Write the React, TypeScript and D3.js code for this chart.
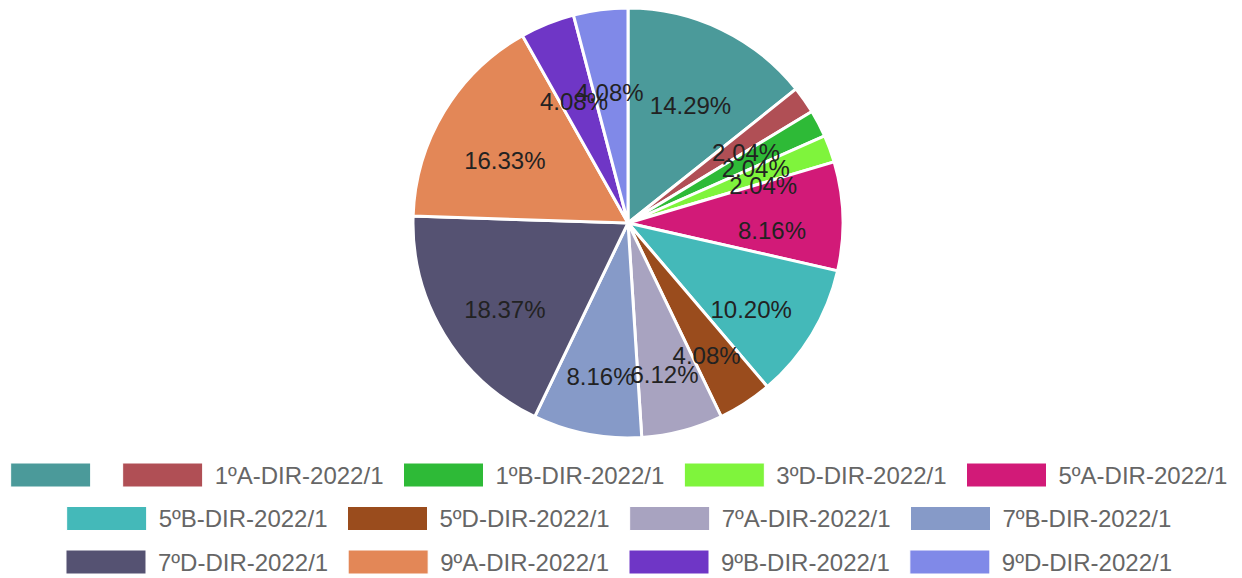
import React, {useMemo} from 'react'
import * as d3 from 'd3'

const categories = [
  '',
  '1ºA-DIR-2022/1',
  '1ºB-DIR-2022/1',
  '3ºD-DIR-2022/1',
  '5ºA-DIR-2022/1',
  '5ºB-DIR-2022/1',
  '5ºD-DIR-2022/1',
  '7ºA-DIR-2022/1',
  '7ºB-DIR-2022/1',
  '7ºD-DIR-2022/1',
  '9ºA-DIR-2022/1',
  '9ºB-DIR-2022/1',
  '9ºD-DIR-2022/1',
]

const counts = [7, 1, 1, 1, 4, 5, 2, 3, 4, 9, 8, 2, 2]

const colors = [
  '#4b9a9a', '#b04f55', '#2eba37', '#7ff43c', '#d21a78', '#44b9b9', '#9a4c1d',
  '#a8a3c0', '#869ac8', '#555272', '#e38757', '#6f36c6', '#8089e8',
]

const W = 1242
const H = 578
const cx = 628
const cy = 223
const radius = 215
const font = '"Liberation Sans", Arial, sans-serif'

const measure = (text: string, size: number) => {
  if (!text) return 0
  const ctx = document.createElement('canvas').getContext('2d')
  if (!ctx) return text.length * size * 0.5
  ctx.font = `${size}px ${font}`
  return ctx.measureText(text).width
}

const App = () => {
  const total = d3.sum(counts)

  const arcs = useMemo(() => d3.pie<number>().sort(null).value(d => d)(counts), [])
  const arcGen = d3.arc<d3.PieArcDatum<number>>().innerRadius(0).outerRadius(radius)

  // legend layout, wrapped like chart.js and centred
  const legend = useMemo(() => {
    const boxW = 80, gap = 12, pad = 20, maxW = 1237
    const rows: {i: number, w: number}[][] = [[]]
    let lineW = 0
    categories.forEach((c, i) => {
      const w = boxW + gap + measure(c, 24)
      if (lineW > 0 && lineW + pad + w > maxW) {
        rows.push([])
        lineW = 0
      }
      lineW += (lineW > 0 ? pad : 0) + w
      rows[rows.length - 1].push({i, w})
    })
    const items: {i: number, x: number, y: number}[] = []
    rows.forEach((row, r) => {
      const rw = d3.sum(row, d => d.w) + pad * (row.length - 1)
      let x = 619 - rw / 2
      row.forEach(it => {
        items.push({i: it.i, x, y: 463 + r * 43.5})
        x += it.w + pad
      })
    })
    return items
  }, [])

  return (
    <svg width={W} height={H} style={{position: 'absolute', left: 0, top: 0}}>
      <g transform={`translate(${cx},${cy})`}>
        {arcs.map((a, i) => (
          <path key={i} d={arcGen(a) || ''} fill={colors[i]} stroke="#fff" strokeWidth={3}/>
        ))}
        {arcs.map((a, i) => {
          const mid = (a.startAngle + a.endAngle) / 2
          const d = radius * 0.67
          return (
            <text
              key={i}
              x={Math.sin(mid) * d}
              y={-Math.cos(mid) * d + 12}
              textAnchor="middle"
              dominantBaseline="central"
              fontFamily={font}
              fontSize={24}
              fill="#222"
            >
              {(a.value / total * 100).toFixed(2)}%
            </text>
          )
        })}
      </g>
      {legend.map(it => (
        <g key={it.i}>
          <rect x={it.x} y={it.y} width={80} height={24} fill={colors[it.i]} stroke="#fff" strokeWidth={1}/>
          <text
            x={it.x + 92}
            y={it.y + 12}
            dominantBaseline="central"
            fontFamily={font}
            fontSize={24}
            fill="#666"
          >
            {categories[it.i]}
          </text>
        </g>
      ))}
    </svg>
  )
}

export default App
